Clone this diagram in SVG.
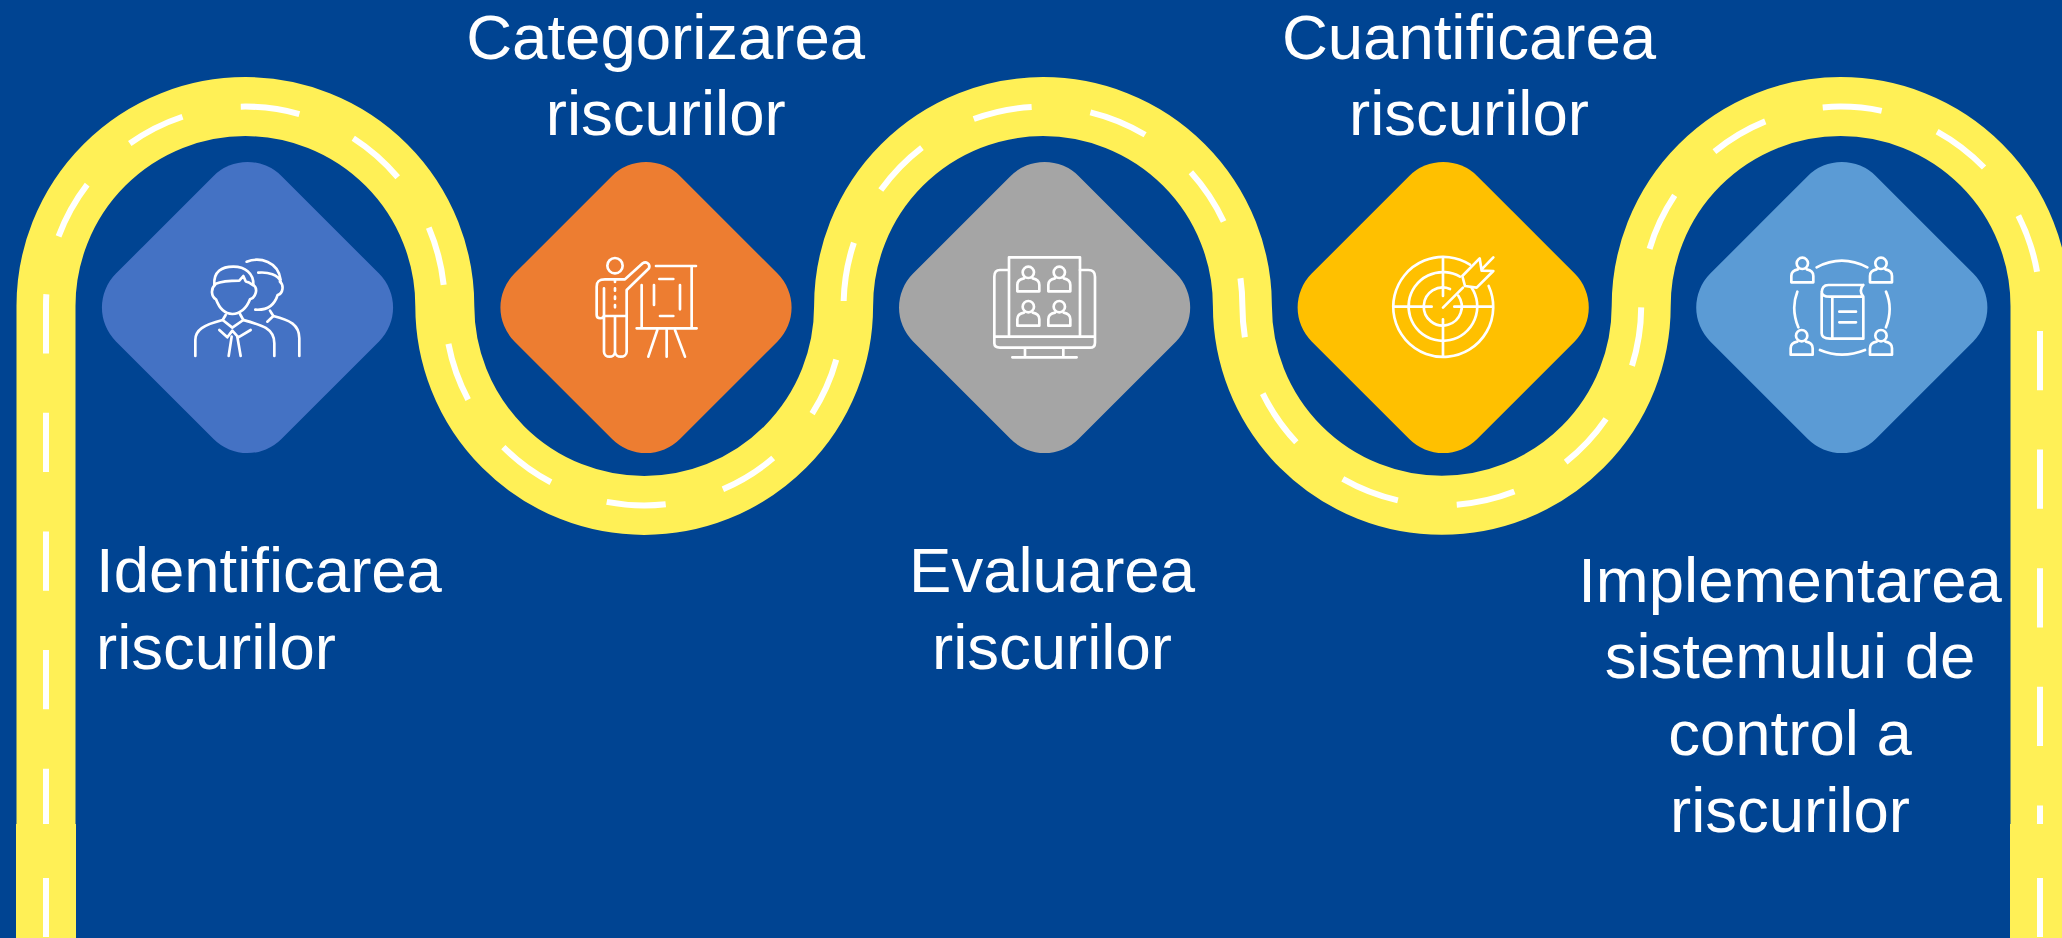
<svg xmlns="http://www.w3.org/2000/svg" width="2062" height="938" viewBox="0 0 2062 938">
<style>
.tile{stroke:none}
.ic{fill:none;stroke:#fff;stroke-width:8;stroke-linecap:round;stroke-linejoin:round}
.road{fill:none;stroke:#FFF056;stroke-width:59}
.dash{fill:none;stroke:#fff;stroke-width:6;stroke-dasharray:59.3 59.33}
.lbl{font-family:"Liberation Sans",Arial,sans-serif;font-size:63.5px;fill:#fff}
.mid{text-anchor:middle}
</style>
<defs>
<rect id="dia" x="-117" y="-117" width="234" height="234" rx="48" ry="48" transform="rotate(45)"/>
<g id="p"><circle cx="0" cy="0" r="17"/><path d="M-13 18C-25 20-33 28-33 38V57H33V38C33 28 25 20 13 18"/></g>
</defs>
<rect width="2062" height="938" fill="#004492"/>
<g id="connectors">
<path class="road" d="M46 828V306A199.4 199.4 0 0 1 444.8 306A199.4 199.4 0 0 0 843.6 306A199.4 199.4 0 0 1 1242.4 306A199.4 199.4 0 0 0 1641.2 306A199.4 199.4 0 0 1 2040 306V828"/>
<path class="dash" d="M46 828V306A199.4 199.4 0 0 1 444.8 306A199.4 199.4 0 0 0 843.6 306A199.4 199.4 0 0 1 1242.4 306A199.4 199.4 0 0 0 1641.2 306A199.4 199.4 0 0 1 2040 306V828"/>
<rect x="16" y="824" width="60" height="114" fill="#FFF056"/>
<rect x="43" y="878" width="6" height="59" fill="#fff"/>
<rect x="2010" y="824" width="60" height="114" fill="#FFF056"/>
<rect x="2037" y="878" width="6" height="59" fill="#fff"/>
</g>
<g id="node-identificarea">
<use href="#dia" x="247.5" y="307.5" fill="#4472C4"/>
<g class="ic" transform="translate(180 240) scale(.3333)">
<path d="M103 135C100 95 125 80 160 80C195 80 222 100 220 135"/>
<path d="M105 132C130 122 160 122 178 122L190 108L197 124C205 125 212 130 218 135"/>
<path d="M105 135C92 145 93 170 108 178C118 205 135 222 157 222C180 222 200 205 210 178C228 172 235 145 220 135"/>
<path d="M137 225L128 240L157 263L190 240L180 222"/>
<path d="M46 348V300C46 270 70 255 128 240"/>
<path d="M190 240C245 255 283 265 283 310V348"/>
<path d="M118 270L142 292L157 272L175 292L212 270"/>
<path d="M155 290L146 348M172 290L182 348"/>
<path d="M200 65C240 50 295 65 302 120M235 98C265 95 295 105 302 125"/>
<path d="M300 125C312 135 310 160 293 165C285 190 265 212 226 209"/>
<path d="M270 212L280 228L262 245"/>
<path d="M280 228C330 240 358 255 358 295V348"/>
</g>
<text class="lbl" x="96" y="592">Identificarea</text>
<text class="lbl" x="96" y="669">riscurilor</text>
</g>
<g id="node-categorizarea">
<use href="#dia" x="646" y="307.5" fill="#ED7D31"/>
<g class="ic" transform="translate(580 240) scale(.3333)">
<circle cx="105" cy="77" r="23"/>
<path d="M72 145V225C72 238 50 238 50 225V140C50 122 60 118 75 118H135L188 70C198 62 212 72 207 85L140 150V335C140 355 105 355 105 335V230M105 335C105 355 72 355 72 335V228H138"/>
<path d="M105 120V126M105 145V152M105 170V177M105 195V202"/>
<path d="M228 78H348M335 78V262M185 135V262M170 265H350"/>
<path d="M232 270L205 350M260 270V350M285 270L315 350"/>
<path d="M238 117H280M222 135V195M300 135V208M240 228H280"/>
</g>
<text class="lbl mid" x="665.7" y="58.5">Categorizarea</text>
<text class="lbl mid" x="665.7" y="135">riscurilor</text>
</g>
<g id="node-evaluarea">
<use href="#dia" x="1044.6" y="307.5" fill="#A5A5A5"/>
<g class="ic" transform="translate(975 240) scale(.3333)">
<path d="M102 290V52H315V290"/>
<path d="M100 90H75C62 90 58 97 58 110V310C58 320 65 323 75 323H345C355 323 360 318 360 308V110C360 97 355 90 340 90H315M58 290H360"/>
<path d="M150 325V352M265 325V352M112 352H305"/>
<use href="#p" x="160" y="97"/><use href="#p" x="253" y="97"/><use href="#p" x="160" y="200"/><use href="#p" x="253" y="200"/>
</g>
<text class="lbl mid" x="1052" y="592">Evaluarea</text>
<text class="lbl mid" x="1052" y="669">riscurilor</text>
</g>
<g id="node-cuantificarea">
<use href="#dia" x="1443.2" y="307.5" fill="#FFC000"/>
<g class="ic" transform="translate(1375 240) scale(.3333)">
<path d="M285 74A150 150 0 1 0 341 138M255 110A103 103 0 1 0 290 143M225 147A57 57 0 1 0 250 167"/>
<path d="M204 55V168M204 238V350M57 200H170M238 200H350"/>
<path d="M204 203L264 143"/>
<path d="M262 108L314 55L320 92L355 93L305 143L270 138ZM320 88L355 52"/>
</g>
<text class="lbl mid" x="1469" y="58.5">Cuantificarea</text>
<text class="lbl mid" x="1469" y="135">riscurilor</text>
</g>
<g id="node-implementarea">
<use href="#dia" x="1841.8" y="307.5" fill="#5B9BD5"/>
<g class="ic" transform="translate(1770 240) scale(.3333)">
<use href="#p" x="97" y="70"/><use href="#p" x="333" y="70"/><use href="#p" x="95" y="287"/><use href="#p" x="333" y="287"/>
<path d="M140 82Q215 42 292 82M150 330Q215 358 285 330M82 155Q62 205 85 262M348 155Q370 205 348 262"/>
<path d="M280 135H175C160 135 155 145 155 160V280C155 292 165 296 180 296H280V170H180C165 170 155 165 155 155M187 172V296M280 135C270 145 270 160 280 170"/>
<path d="M208 215H258M208 247H258"/>
</g>
<text class="lbl mid" x="1790" y="601.7">Implementarea</text>
<text class="lbl mid" x="1790" y="678.3">sistemului de</text>
<text class="lbl mid" x="1790" y="755">control a</text>
<text class="lbl mid" x="1790" y="832">riscurilor</text>
</g>
</svg>
